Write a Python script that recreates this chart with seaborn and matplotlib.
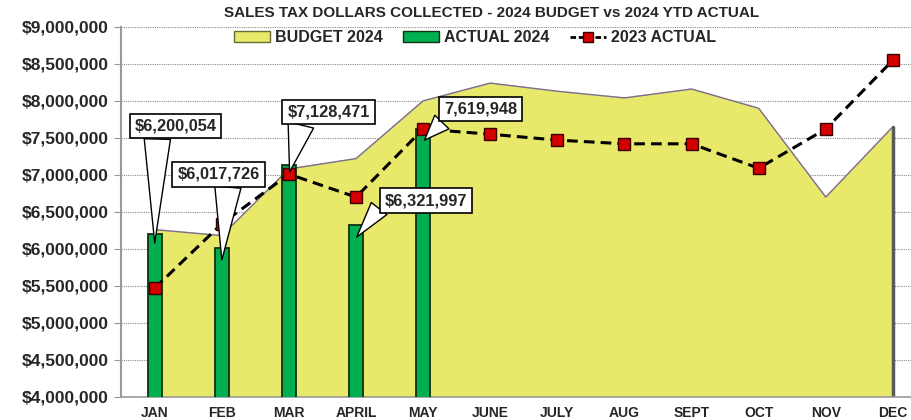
import numpy as np
import pandas as pd
import matplotlib
matplotlib.use("Agg")
import matplotlib.pyplot as plt
import seaborn as sns
from matplotlib.lines import Line2D
from matplotlib.patches import Patch
from matplotlib.ticker import FuncFormatter

# data
months = ['JAN', 'FEB', 'MAR', 'APRIL', 'MAY', 'JUNE', 'JULY', 'AUG',
          'SEPT', 'OCT', 'NOV', 'DEC']
budget_2024 = [6260000, 6180000, 7080000, 7220000, 8000000, 8240000,
               8130000, 8040000, 8160000, 7900000, 6700000, 7650000]
actual_2024 = [6200054, 6017726, 7128471, 6321997, 7619948]
actual_2023 = [5470000, 6340000, 7010000, 6700000, 7620000, 7550000,
               7470000, 7420000, 7420000, 7090000, 7620000, 8550000]
labels_2024 = ['$6,200,054', '$6,017,726', '$7,128,471', '$6,321,997', '7,619,948']

sns.set_style('white')
plt.rcParams['font.family'] = ['Liberation Sans', 'DejaVu Sans']

fig = plt.figure(figsize=(9.11, 4.2), dpi=100)
ax = fig.add_axes([0.133, 0.055, 0.867, 0.881])

x = np.arange(len(months))

# budget area
ax.fill_between(x, 0, budget_2024, color='#E8E86A', zorder=1)
ax.plot(x, budget_2024, color='#7B6C9A', lw=1, zorder=2)
ax.plot([x[-1], x[-1]], [0, budget_2024[-1]], color='#5A5A5A', lw=2.5, zorder=2)

# actual 2024 bars
bars_df = pd.DataFrame({'month': months[:len(actual_2024)], 'value': actual_2024})
sns.barplot(data=bars_df, x='month', y='value', order=months, width=0.21,
            color='#00B050', edgecolor='#123012', linewidth=1.3,
            saturation=1, ax=ax, zorder=3)

# 2023 actual line
line_df = pd.DataFrame({'pos': x, 'value': actual_2023})
sns.lineplot(data=line_df, x='pos', y='value', ax=ax, color='black',
             lw=2.2, linestyle=(0, (3.5, 2)), marker='s', markersize=8.5,
             markerfacecolor='#D40000', markeredgecolor='#3A0000',
             markeredgewidth=1, zorder=5)

ax.set_xlim(-0.5, 11.27)
ax.set_ylim(4000000, 9000000)
ax.set_yticks(np.arange(4000000, 9000001, 500000))
ax.yaxis.set_major_formatter(FuncFormatter(lambda v, p: f'${v:,.0f}'))
ax.set_xlabel('')
ax.set_ylabel('')
ax.grid(axis='y', color='#8A8A8A', linestyle=(0, (1, 1)), lw=0.8, zorder=0)
ax.set_axisbelow(True)
for s in ['top', 'right']:
    ax.spines[s].set_visible(False)
ax.spines['left'].set_color('#9A9A9A')
ax.spines['left'].set_linewidth(1.5)
ax.spines['bottom'].set_color('#9A9A9A')
ax.spines['bottom'].set_linewidth(1.2)
ax.tick_params(axis='y', left=True, length=5, color='#9A9A9A', labelsize=12.5, pad=4)
ax.tick_params(axis='x', bottom=False, labelsize=10, pad=3)
for t in ax.get_yticklabels() + ax.get_xticklabels():
    t.set_fontweight('bold')

# callouts
callout_pos = [(0.31, 7660000), (0.95, 7010000), (2.59, 7850000),
               (4.04, 6650000), (4.86, 7890000)]
tips = [(0.0, 6080000), (1.0, 5850000), (2.01, 7040000),
        (3.01, 6160000), (4.02, 7470000)]
rel = [(0.28, 0.0), (0.62, 0.0), (0.18, 0.0), (0.0, 0.45), (0.06, 0.1)]
tails = [1.6, 1.6, 1.6, 1.2, 1.2]
for lab, pos, tip, rp, tw in zip(labels_2024, callout_pos, tips, rel, tails):
    ax.annotate(lab, xy=tip, xytext=pos, ha='center', va='center',
                fontsize=11.8, fontweight='bold', zorder=8,
                bbox=dict(boxstyle='square,pad=0.3', fc='white', ec='black', lw=1.2),
                arrowprops=dict(arrowstyle=f'wedge,tail_width={tw}',
                                fc='white', ec='black', lw=1, relpos=rp,
                                shrinkA=0, shrinkB=0),
                annotation_clip=False)

fig.suptitle('SALES TAX DOLLARS COLLECTED - 2024 BUDGET vs 2024 YTD ACTUAL',
             x=0.54, y=0.985, fontsize=11, fontweight='bold')

handles = [Patch(fc='#E8E86A', ec='#6A6A3A', lw=1),
           Patch(fc='#00B050', ec='#123012', lw=1),
           Line2D([], [], color='black', lw=2, linestyle=(0, (2, 1)), marker='s',
                  markersize=7, markerfacecolor='#D40000', markeredgecolor='#3A0000')]
leg = ax.legend(handles, ['BUDGET 2024', 'ACTUAL 2024', '2023 ACTUAL'],
                loc='upper center', bbox_to_anchor=(0.448, 1.03), ncol=3,
                frameon=False, handlelength=2.25, handleheight=0.6,
                columnspacing=1.25, handletextpad=0.35,
                prop={'weight': 'bold', 'size': 11.5})

fig.savefig('out.png', dpi=100)
